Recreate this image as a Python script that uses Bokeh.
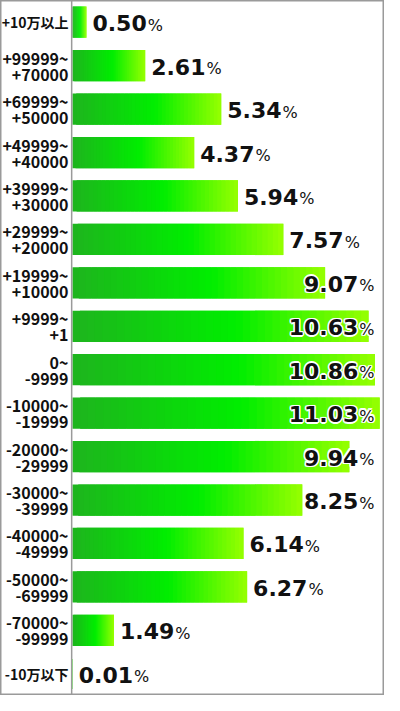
from bokeh.plotting import figure
from bokeh.models import Range1d, Span
from bokeh.embed import file_html
from bokeh.resources import INLINE
from bokeh.core.properties import value

categories = ["+10万以上", "+99999~\n+70000", "+69999~\n+50000", "+49999~\n+40000",
              "+39999~\n+30000", "+29999~\n+20000", "+19999~\n+10000", "+9999~\n+1",
              "0~\n-9999", "-10000~\n-19999", "-20000~\n-29999", "-30000~\n-39999",
              "-40000~\n-49999", "-50000~\n-69999", "-70000~\n-99999", "-10万以下"]
values = [0.50, 2.61, 5.34, 4.37, 5.94, 7.57, 9.07, 10.63,
          10.86, 11.03, 9.94, 8.25, 6.14, 6.27, 1.49, 0.01]

W, H = 384, 695
DIV_PX = 72
SCALE = 27.85  # px per percent
n = len(values)

p = figure(width=W, height=H, output_backend="svg", toolbar_location=None,
           x_range=Range1d(-DIV_PX / SCALE, (W - DIV_PX) / SCALE),
           y_range=Range1d(n, 0), min_border=0)
p.axis.visible = False
p.grid.visible = False
p.background_fill_color = "white"
p.border_fill_color = "white"
p.outline_line_color = "#9a9a9a"
p.outline_line_width = 2

# gradient bars
stops = [(0.0, (30, 180, 30)), (0.55, (0, 238, 0)), (1.0, (150, 255, 0))]
def grad(t):
    for (t0, c0), (t1, c1) in zip(stops[:-1], stops[1:]):
        if t <= t1:
            f = (t - t0) / (t1 - t0)
            return "#%02x%02x%02x" % tuple(int(round(a + (b - a) * f)) for a, b in zip(c0, c1))
    return "#%02x%02x%02x" % stops[-1][1]

N = 40
L, R, T, B, C = [], [], [], [], []
bh = 0.72
for i, v in enumerate(values):
    for k in range(N):
        L.append(v * k / N)
        R.append(v * min(k + 2, N) / N)
        T.append(i + 0.5 - bh / 2)
        B.append(i + 0.5 + bh / 2)
        C.append(grad((k + 0.5) / N))
p.quad(left=L, right=R, top=T, bottom=B, fill_color=C, line_color=None)

p.add_layout(Span(location=-0.03, dimension="height", line_color="#9a9a9a", line_width=1.5))

# category labels
lab_font = value("Noto Sans CJK JP")
one_x, one_y, one_t = [], [], []
l1_y, l1_t, l2_y, l2_t, two_x = [], [], [], [], []
for i, c in enumerate(categories):
    parts = c.split("\n")
    if len(parts) == 1:
        one_x.append(0); one_y.append(i + 0.5); one_t.append(c)
    else:
        two_x.append(0)
        l1_y.append(i + 0.5); l1_t.append(parts[0])
        l2_y.append(i + 0.5); l2_t.append(parts[1])
common = dict(text_align="right", text_font=lab_font, text_font_style="bold",
              text_color="#111111", x_offset=-4)
p.text(x=one_x, y=one_y, text=one_t, text_baseline="middle", text_font_size="14px", **common)
p.text(x=two_x, y=l1_y, text=l1_t, text_baseline="middle", y_offset=-8, text_font_size="16px", **common)
p.text(x=two_x, y=l2_y, text=l2_t, text_baseline="middle", y_offset=9, text_font_size="16px", **common)

# value labels
NUM_PX = 22
PCT_PX = 16
adv = {d: 0.696 for d in "0123456789"}
adv["."] = 0.381
limit_px = 374 - DIV_PX
gap_px = 6
nx, px_, ys, nt = [], [], [], []
for i, v in enumerate(values):
    s = "%.2f" % v
    numw = sum(adv[ch] for ch in s) * NUM_PX
    tot = numw + 1 + 0.95 * PCT_PX
    start = v * SCALE + gap_px
    if start + tot > limit_px:
        start = limit_px - tot
    nx.append(start / SCALE)
    px_.append((start + numw + 1) / SCALE)
    ys.append(i + 0.5)
    nt.append(s)

num_style = dict(text_align="left", text_baseline="middle", text_font=value("DejaVu Sans"),
                 text_font_style="bold", text_font_size="%dpx" % NUM_PX)
pct_style = dict(text_align="left", text_baseline="middle", text_font=value("DejaVu Sans"),
                 text_font_size="%dpx" % PCT_PX)
halo = [(-1.5, 0), (1.5, 0), (0, -1.5), (0, 1.5), (-1.2, -1.2), (1.2, 1.2), (-1.2, 1.2), (1.2, -1.2)]
for dx, dy in halo:
    p.text(x=nx, y=ys, text=nt, text_color="white", x_offset=dx, y_offset=1 + dy, **num_style)
    p.text(x=px_, y=ys, text=["%"] * n, text_color="white", x_offset=dx, y_offset=3 + dy, **pct_style)
p.text(x=nx, y=ys, text=nt, text_color="#111111", y_offset=1, **num_style)
p.text(x=px_, y=ys, text=["%"] * n, text_color="#111111", y_offset=3, **pct_style)

open("out.html", "w").write(file_html(p, INLINE))
